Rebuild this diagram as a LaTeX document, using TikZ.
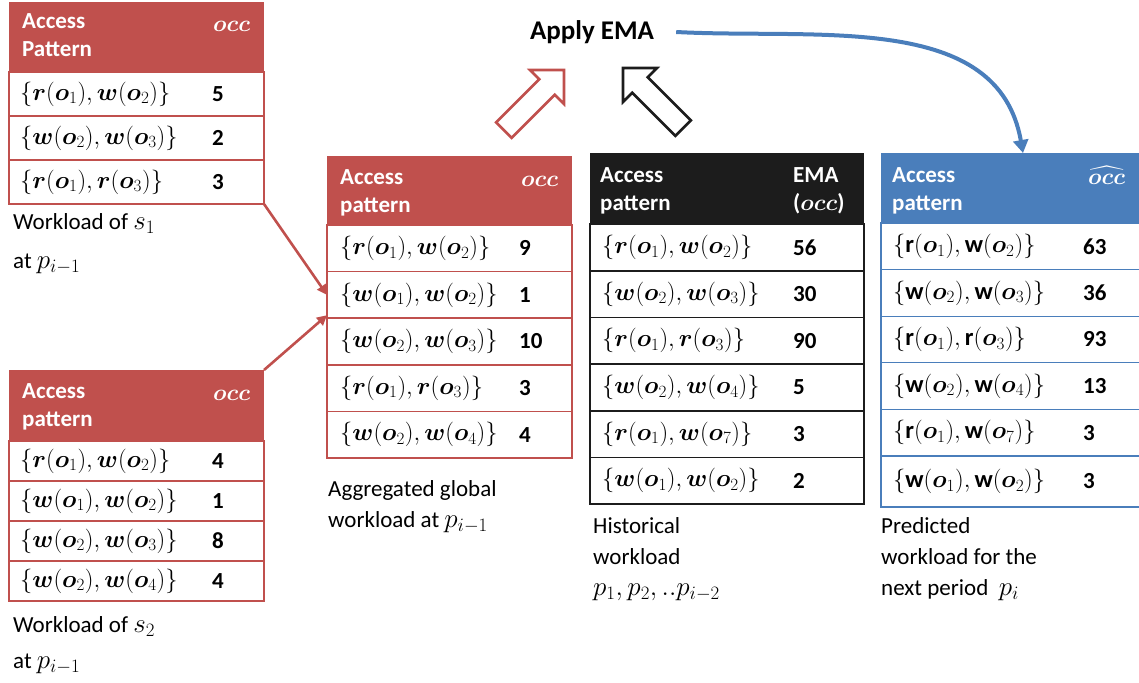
\RequirePackage{fix-cm}
\documentclass[tikz,border=0pt]{standalone}
\usepackage{amsmath,amssymb,bm}
\usepackage{fontspec}
\setmainfont{Carlito}
\usetikzlibrary{arrows.meta,positioning}

\definecolor{emared}{HTML}{C0504D}
\definecolor{emablue}{HTML}{4A7EBB}
\definecolor{emablack}{HTML}{1C1C1C}

% one access pattern {x(o_a), y(o_b)}
\newcommand{\ap}[4]{$\{\bm{#1}(\bm{o}_{#2}),\bm{#3}(\bm{o}_{#4})\}$}
\newcommand{\apu}[4]{$\{\mathbf{#1}(\bm{o}_{#2}),\mathbf{#3}(\bm{o}_{#4})\}$}
\newcommand{\occ}{\bm{occ}}
% math inside the captions, a bit larger than the text
\newcommand{\lm}[1]{{\fontsize{27}{31}\selectfont$#1$}}

\tikzset{
  hdr/.style={anchor=north west,inner sep=0pt,outer sep=0pt},
  row/.style={anchor=north west,inner sep=0pt,outer sep=0pt,line width=1.6pt},
  htxt/.style={anchor=base west,inner sep=0pt,text=white,align=left,
    font=\fontsize{23}{28}\selectfont\bfseries},
  pat/.style={anchor=west,inner sep=0pt,font=\fontsize{24.5}{30}\selectfont},
  num/.style={anchor=west,inner sep=0pt,font=\fontsize{23}{28}\selectfont\bfseries},
  lbl/.style={anchor=base west,inner sep=0pt,align=left},
  hollow/.style={line width=2.6pt,fill=white,line join=miter},
  redlink/.style={draw=emared,line width=2.6pt,-{Triangle[length=10pt,width=10pt]}},
}

\begin{document}
\begin{tikzpicture}[x=1pt,y=-1pt,font=\fontsize{23}{31}\selectfont]
\useasboundingbox (0,0) rectangle (1139,682);

% workload of s1
\node[hdr,fill=emared,minimum width=255pt,minimum height=70pt] (s1h) at (9,2) {};
\node[htxt] at ([xshift=13pt,yshift=-55pt]s1h.north west) {Access\\Pattern};
\node[htxt] at ([xshift=204pt,yshift=-30pt]s1h.north west) {$\occ$};
\foreach \p/\n [count=\i] in {{\ap{r}{1}{w}{2}}/5,{\ap{w}{2}{w}{3}}/2,{\ap{r}{1}{r}{3}}/3}
{
  \node[row,draw=emared,minimum width=255pt,minimum height=44pt] (s1r\i) at (9,{72+44*(\i-1)}) {};
  \node[pat] at ([xshift=11pt]s1r\i.west) {\p};
  \node[num] at ([xshift=203pt]s1r\i.west) {\n};
}
\node[lbl] (s1l) at (13,268) {Workload of \lm{s_1}\\[8pt]at \lm{p_{i-1}}};

% workload of s2
\node[hdr,fill=emared,minimum width=255pt,minimum height=71pt] (s2h) at (9,370) {};
\node[htxt] at ([xshift=13pt,yshift=-56pt]s2h.north west) {Access\\pattern};
\node[htxt] at ([xshift=204pt,yshift=-30pt]s2h.north west) {$\occ$};
\foreach \p/\n [count=\i] in {{\ap{r}{1}{w}{2}}/4,{\ap{w}{1}{w}{2}}/1,{\ap{w}{2}{w}{3}}/8,{\ap{w}{2}{w}{4}}/4}
{
  \node[row,draw=emared,minimum width=255pt,minimum height=40pt] (s2r\i) at (9,{441+40*(\i-1)}) {};
  \node[pat] at ([xshift=11pt]s2r\i.west) {\p};
  \node[num] at ([xshift=203pt]s2r\i.west) {\n};
}
\node[lbl] (s2l) at (13,668) {Workload of \lm{s_2}\\[5pt]at \lm{p_{i-1}}};

% aggregated global workload
\node[hdr,fill=emared,minimum width=245pt,minimum height=69pt] (ah) at (327,156) {};
\node[htxt] at ([xshift=13pt,yshift=-56pt]ah.north west) {Access\\pattern};
\node[htxt] at ([xshift=194pt,yshift=-30pt]ah.north west) {$\occ$};
\foreach \p/\n [count=\i] in {{\ap{r}{1}{w}{2}}/9,{\ap{w}{1}{w}{2}}/1,{\ap{w}{2}{w}{3}}/10,{\ap{r}{1}{r}{3}}/3,{\ap{w}{2}{w}{4}}/4}
{
  \node[row,draw=emared,minimum width=245pt,minimum height=46.6pt] (ar\i) at (327,{225+46.6*(\i-1)}) {};
  \node[pat] at ([xshift=13pt]ar\i.west) {\p};
  \node[num] at ([xshift=192pt]ar\i.west) {\n};
}
\node[lbl] (al) at (328,527) {Aggregated global\\workload at \lm{p_{i-1}}};

% historical workload
\node[hdr,fill=emablack,minimum width=274pt,minimum height=71pt] (hh) at (590,153) {};
\node[htxt] at ([xshift=10pt,yshift=-57pt]hh.north west) {Access\\pattern};
\node[htxt] at ([xshift=203pt,yshift=-57pt]hh.north west) {EMA\\($\occ$)};
\foreach \p/\n [count=\i] in {{\ap{r}{1}{w}{2}}/56,{\ap{w}{2}{w}{3}}/30,{\ap{r}{1}{r}{3}}/90,{\ap{w}{2}{w}{4}}/5,{\ap{r}{1}{w}{7}}/3,{\ap{w}{1}{w}{2}}/2}
{
  \node[row,draw=emablack,minimum width=274pt,minimum height=46.7pt] (hr\i) at (590,{224+46.7*(\i-1)}) {};
  \node[pat] at ([xshift=12pt]hr\i.west) {\p};
  \node[num] at ([xshift=203pt]hr\i.west) {\n};
}
\node[lbl] (hl) at (593,595) {Historical\\workload\\\lm{p_1,p_2,..p_{i-2}}};

% predicted workload
\node[hdr,fill=emablue,minimum width=264pt,minimum height=70pt] (ph) at (881,153) {};
\node[htxt] at ([xshift=11pt,yshift=-57pt]ph.north west) {Access\\pattern};
\node[htxt] at ([xshift=207pt,yshift=-31pt]ph.north west) {$\widehat{\occ}$};
\foreach \p/\n [count=\i] in {{\apu{r}{1}{w}{2}}/63,{\apu{w}{2}{w}{3}}/36,{\apu{r}{1}{r}{3}}/93,{\apu{w}{2}{w}{4}}/13,{\apu{r}{1}{w}{7}}/3,{\apu{w}{1}{w}{2}}/3}
{
  \ifnum\i=6 \def\rh{51}\else\def\rh{46.6}\fi
  \node[row,draw=emablue,line width=1.3pt,minimum width=264pt,minimum height=\rh pt] (pr\i) at (881,{223+46.6*(\i-1)}) {};
  \node[pat] at ([xshift=12pt]pr\i.west) {\p};
  \node[num] at ([xshift=202pt]pr\i.west) {\n};
}
\node[lbl] (pl) at (881,595) {Predicted\\workload for the\\next period~ \lm{p_i}};

% EMA step
\node[inner sep=0pt,font=\fontsize{27}{31}\selectfont\bfseries] (ema) at (592,32) {Apply EMA};
\draw[emablue,line width=4pt,-{Triangle[length=13pt,width=15pt]}]
  ([xshift=22pt]ema.east) to[out=-3,in=100] ([xshift=10pt]ph.north);

% hollow arrows into the EMA step
\begin{scope}[shift={(564,70)},rotate=45]
  \draw[hollow,draw=emared] (0,0)--(-24,24)--(-24,11)--(-85,11)--(-85,-11)--(-24,-11)--(-24,-24)--cycle;
\end{scope}
\begin{scope}[shift={(623,68)},rotate=135]
  \draw[hollow,draw=emablack] (0,0)--(-24,24)--(-24,11)--(-85,11)--(-85,-11)--(-24,-11)--(-24,-24)--cycle;
\end{scope}

% local workloads merged
\draw[redlink] (s1r3.south east) -- (ar2.west);
\draw[redlink] (s2h.north east) -- ([yshift=3pt]ar2.south west);
\end{tikzpicture}
\end{document}
